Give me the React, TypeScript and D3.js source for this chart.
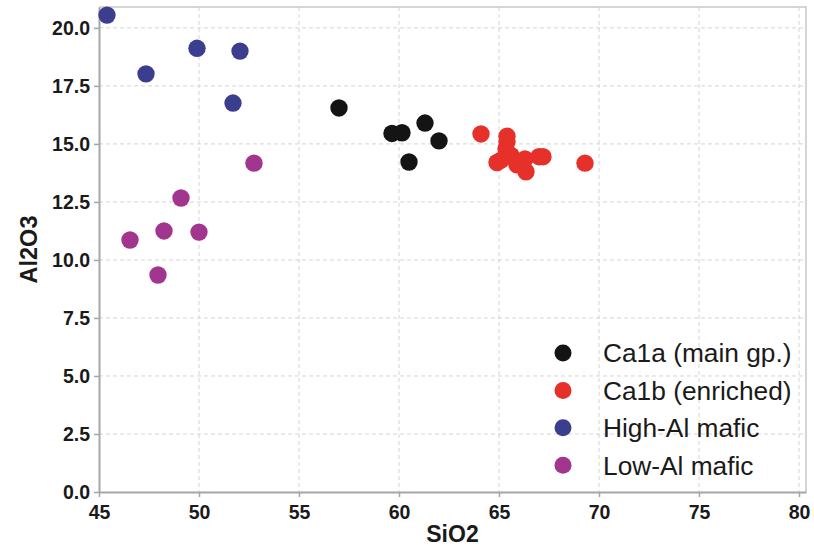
import React, { useRef, useEffect } from 'react';
import * as d3 from 'd3';

// Series values (SiO2, Al2O3).
const ca1aSiO2 = [57.0, 59.65, 60.15, 60.5, 61.3, 62.0];
const ca1aAl2O3 = [16.55, 15.45, 15.48, 14.22, 15.9, 15.13];

const ca1bSiO2 = [64.1, 65.4, 65.4, 65.35, 64.9, 65.1, 65.6, 65.9, 66.3, 66.35, 67.0, 67.2, 69.3];
const ca1bAl2O3 = [15.43, 15.33, 15.1, 14.8, 14.2, 14.3, 14.5, 14.1, 14.35, 13.8, 14.45, 14.45, 14.17];

const highAlSiO2 = [45.4, 47.35, 49.9, 52.05, 51.7];
const highAlAl2O3 = [20.55, 18.02, 19.12, 19.0, 16.76];

const lowAlSiO2 = [46.55, 47.95, 48.25, 49.1, 50.0, 52.75];
const lowAlAl2O3 = [10.86, 9.35, 11.25, 12.67, 11.2, 14.17];

const seriesNames = ['Ca1a (main gp.)', 'Ca1b (enriched)', 'High-Al mafic', 'Low-Al mafic'];
const seriesColors = ['#141414', '#e6302a', '#3b3d8e', '#a2368e'];

const xTicks = [45, 50, 55, 60, 65, 70, 75, 80];
const yTicks = [0, 2.5, 5, 7.5, 10, 12.5, 15, 17.5, 20];

const font = '"Liberation Sans", Arial, sans-serif';

const App = () => {
  const ref = useRef<SVGSVGElement>(null);

  useEffect(() => {
    const svg = d3.select(ref.current);
    svg.selectAll('*').remove();

    const margin = { top: 7, right: 8, bottom: 57, left: 99 };
    const W = 814;
    const H = 549;
    const width = W - margin.left - margin.right;
    const height = H - margin.top - margin.bottom;

    const x = d3.scaleLinear().domain([45, 80.35]).range([0, width]);
    const y = d3.scaleLinear().domain([0, 20.9]).range([height, 0]);

    const g = svg.append('g').attr('transform', `translate(${margin.left},${margin.top})`);

    // Grid lines.
    g.append('g')
      .selectAll('line')
      .data(xTicks.slice(1))
      .join('line')
      .attr('x1', d => x(d))
      .attr('x2', d => x(d))
      .attr('y1', 0)
      .attr('y2', height)
      .attr('stroke', '#d4d4d4')
      .attr('stroke-dasharray', '4,3');

    g.append('g')
      .selectAll('line')
      .data(yTicks.slice(1))
      .join('line')
      .attr('x1', 0)
      .attr('x2', width)
      .attr('y1', d => y(d))
      .attr('y2', d => y(d))
      .attr('stroke', '#d4d4d4')
      .attr('stroke-dasharray', '4,3');

    // Top and right frame.
    g.append('path')
      .attr('d', `M0,0H${width}V${height}`)
      .attr('fill', 'none')
      .attr('stroke', '#c8c8c8')
      .attr('stroke-width', 1.5);

    // Axes.
    const xAxis = g.append('g')
      .attr('transform', `translate(0,${height})`)
      .call(d3.axisBottom(x).tickValues(xTicks).tickSize(5).tickSizeOuter(0).tickFormat(d3.format('d')));
    const yAxis = g.append('g')
      .call(d3.axisLeft(y).tickValues(yTicks).tickSize(5).tickSizeOuter(0).tickFormat(d3.format('.1f')));

    [xAxis, yAxis].forEach(ax => {
      ax.select('.domain').attr('stroke', '#a6a6a6').attr('stroke-width', 2);
      ax.selectAll('.tick line').attr('stroke', '#a6a6a6').attr('stroke-width', 1.5);
      ax.selectAll('.tick text')
        .attr('fill', '#1a1a1a')
        .style('font-family', font)
        .style('font-weight', 'bold')
        .style('font-size', '19.5px');
    });
    xAxis.selectAll('.tick text').attr('dy', '0.95em');
    yAxis.selectAll('.tick text').attr('x', -9);

    // Axis titles.
    g.append('text')
      .attr('x', width / 2)
      .attr('y', height + 50)
      .attr('text-anchor', 'middle')
      .style('font-family', font)
      .style('font-weight', 'bold')
      .style('font-size', '23px')
      .attr('fill', '#1a1a1a')
      .text('SiO2');

    g.append('text')
      .attr('transform', 'rotate(-90)')
      .attr('x', -height / 2)
      .attr('y', -62)
      .attr('text-anchor', 'middle')
      .style('font-family', font)
      .style('font-weight', 'bold')
      .style('font-size', '23.5px')
      .attr('fill', '#1a1a1a')
      .text('Al2O3');

    // Points.
    const series = [
      { xs: ca1aSiO2, ys: ca1aAl2O3 },
      { xs: ca1bSiO2, ys: ca1bAl2O3 },
      { xs: highAlSiO2, ys: highAlAl2O3 },
      { xs: lowAlSiO2, ys: lowAlAl2O3 },
    ];

    series.forEach((s, i) => {
      g.append('g')
        .selectAll('circle')
        .data(s.xs.map((v, j) => [v, s.ys[j]]))
        .join('circle')
        .attr('cx', d => x(d[0]))
        .attr('cy', d => y(d[1]))
        .attr('r', 8.7)
        .attr('fill', seriesColors[i]);
    });

    // Legend.
    const legend = svg.append('g').attr('transform', 'translate(563,353)');
    seriesNames.forEach((name, i) => {
      const row = legend.append('g').attr('transform', `translate(0,${i * 37.4})`);
      row.append('circle').attr('r', 8.5).attr('fill', seriesColors[i]);
      row.append('text')
        .attr('x', 40)
        .attr('dy', '0.36em')
        .style('font-family', font)
        .style('font-size', '26.3px')
        .attr('fill', '#1a1a1a')
        .text(name);
    });
  }, []);

  return (
    <svg
      ref={ref}
      width={814}
      height={549}
      style={{ position: 'absolute', left: 0, top: 0, background: '#fff' }}
    />
  );
};

export default App;
